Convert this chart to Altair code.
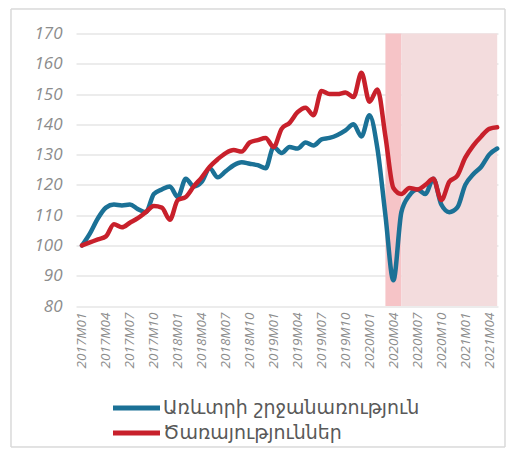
import altair as alt
import pandas as pd

# Monthly index, 2017M01 .. 2021M05 (53 months)
years = [2017, 2018, 2019, 2020, 2021]
month_labels = [f"{y}M{m:02d}" for y in years for m in range(1, 13)][:53]

trade = [100, 104, 109, 112.5, 113.5, 113.2, 113.5, 112, 111, 117,
         118.5, 119.5, 116, 122, 119.5, 121, 125.5, 122.5, 124.5, 126.5,
         127.5, 127, 126.5, 125.5, 132.5, 130.5, 132.5, 132, 134, 133,
         135, 135.5, 136.5, 138, 140, 136, 143, 132, 110, 88.5,
         111, 116.5, 118.5, 117, 122, 113.5, 111, 112.5, 120, 123.5,
         126, 130, 132]
services = [100, 101, 102, 103, 107, 106, 107.5, 109, 111, 113,
            112.5, 108.5, 115, 116, 119.5, 122.5, 126, 128.5, 130.5, 131.5,
            131, 134, 134.8, 135.5, 132.5, 138.5, 140.5, 144, 145.5, 143,
            151, 150, 150, 150.5, 149, 157, 147.5, 151.5, 136, 119,
            117, 119, 118.5, 120, 122, 115, 121, 123, 129, 133,
            136, 138.5, 139]

series_names = ["Առևտրի շրջանառություն", "Ծառայություններ"]
series_colors = ["#1b7196", "#c8202b"]

band_start = [38, 40]
band_end = [40, 52]
band_kind = ["lockdown", "after"]
band_colors = ["#f6c4c7", "#f3dcdd"]

y_ticks = [80, 90, 100, 110, 120, 130, 140, 150, 160, 170]
x_ticks = list(range(0, 53, 3))

rows = []
for i, lab in enumerate(month_labels):
    rows.append({"m": i, "label": lab, "series": series_names[0], "value": trade[i]})
    rows.append({"m": i, "label": lab, "series": series_names[1], "value": services[i]})
df = pd.DataFrame(rows)

bands = pd.DataFrame({"m": band_start, "m2": band_end, "kind": band_kind,
                      "value": [170, 170], "value2": [80, 80]})

label_expr = "[" + ",".join(f"'{l}'" for l in month_labels) + "][datum.value]"

W, H = 422, 272.5
xscale = alt.Scale(domain=[-0.75, 52.1], nice=False, zero=False)
yscale = alt.Scale(domain=[80, 170], nice=False, zero=False)

x_axis = alt.Axis(values=x_ticks, labelExpr=label_expr, labelAngle=-90,
                  labelFont="Open Sans", labelFontStyle="italic", labelFontSize=13.5,
                  labelColor="#8c8c8c", grid=False, ticks=False, domain=False,
                  labelPadding=6, title=None)
y_axis = alt.Axis(values=y_ticks, labelFont="Open Sans", labelFontStyle="italic",
                  labelFontSize=17, labelColor="#8c8c8c", grid=True,
                  gridColor="#d9d9d9", gridWidth=1, ticks=False, domain=False,
                  labelPadding=14, title=None)

band_layer = alt.Chart(bands).mark_rect().encode(
    x=alt.X("m:Q", scale=xscale, axis=x_axis),
    x2="m2:Q",
    y=alt.Y("value:Q", scale=yscale, axis=y_axis),
    y2="value2:Q",
    color=alt.Color("kind:N", scale=alt.Scale(domain=band_kind, range=band_colors), legend=None),
)

line_layer = alt.Chart(df).mark_line(strokeWidth=4.5, strokeJoin="round", strokeCap="round",
                                     interpolate="monotone").encode(
    x=alt.X("m:Q", scale=xscale, axis=x_axis),
    y=alt.Y("value:Q", scale=yscale, axis=y_axis),
    color=alt.Color("series:N", sort=series_names,
                    scale=alt.Scale(domain=series_names, range=series_colors),
                    legend=None),
    order=alt.Order("m:Q"),
)

# manual legend (line swatch + label per series)
legend_layers = []
row_y = [374.5, 399.5]
for name, col, yy in zip(series_names, series_colors, row_y):
    ld = pd.DataFrame({"name": [name]})
    legend_layers.append(
        alt.Chart(ld).mark_rule(color=col, strokeWidth=5).encode(
            x=alt.value(37), x2=alt.value(84), y=alt.value(yy)))
    legend_layers.append(
        alt.Chart(ld).mark_text(align="left", baseline="middle", font="DejaVu Sans",
                                fontSize=19, color="#595959").encode(
            x=alt.value(87), y=alt.value(yy), text="name:N"))

frame = alt.Chart(bands).mark_rect(fill=None, stroke="#d9d9d9", strokeWidth=1).encode(
    x=alt.value(-65), x2=alt.value(429), y=alt.value(-24.5), y2=alt.value(413.5)
)

chart = alt.layer(band_layer, line_layer, frame, *legend_layers).resolve_scale(
    color="independent").properties(
    width=W, height=H,
    autosize=alt.AutoSizeParams(type="none"),
    padding={"left": 68, "top": 25.5, "right": 8, "bottom": 142},
).configure_view(stroke=None)

chart.save("out.html", embed_options={"renderer": "svg", "actions": False})
